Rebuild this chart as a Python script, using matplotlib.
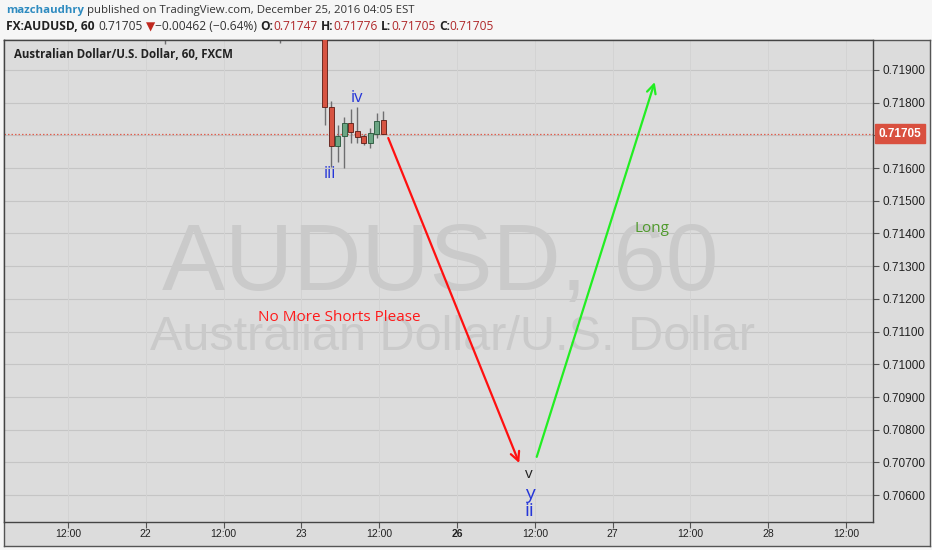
import matplotlib
matplotlib.use("Agg")
import matplotlib.pyplot as plt
from matplotlib.patches import Rectangle, FancyArrowPatch
from matplotlib.transforms import IdentityTransform, blended_transform_factory

W, H, DPI = 932, 550, 100

# ---------------- data ----------------
tick_hours = [12, 24, 36, 48, 60, 72, 84, 96, 108, 120, 132]
tick_labels = ["12:00", "22", "12:00", "23", "12:00", "26", "12:00", "27", "12:00", "28", "12:00"]
bold_labels = ["26"]
price_ticks = [0.706, 0.707, 0.708, 0.709, 0.710, 0.711, 0.712, 0.713,
               0.714, 0.715, 0.716, 0.717, 0.718, 0.719]
hidden_price_labels = [0.717]

candle_hours = [27.0, 44.7, 51.6, 52.6, 53.6, 54.6, 55.6, 56.6, 57.6, 58.6, 59.6, 60.6]
opens  = [0.72150, 0.72120, 0.72320, 0.71788, 0.71668, 0.71699, 0.71737, 0.71713, 0.71697, 0.71676, 0.71704, 0.71747]
highs  = [0.72200, 0.72180, 0.72360, 0.71805, 0.71732, 0.71756, 0.71782, 0.71787, 0.71703, 0.71722, 0.71768, 0.71776]
lows   = [0.71980, 0.71982, 0.71732, 0.71604, 0.71620, 0.71600, 0.71677, 0.71678, 0.71672, 0.71660, 0.71693, 0.71705]
closes = [0.72100, 0.72050, 0.71786, 0.71668, 0.71699, 0.71737, 0.71711, 0.71696, 0.71676, 0.71706, 0.71743, 0.71705]

last_price = 0.71705

# arrows (hour, price)
red_arrow = [(61.4, 0.71692), (81.6, 0.70698)]
green_arrow = [(84.3, 0.70717), (102.5, 0.71863)]

# labels (hour, price, text, color, size)
wave_labels = [
    (56.6, 0.71814, "iv", "#2536d8", 12),
    (52.4, 0.71582, "iii", "#2536d8", 12),
    (83.1, 0.70663, "v", "#222222", 11),
    (83.2, 0.70603, "y", "#2536d8", 14),
    (83.2, 0.70551, "ii", "#2536d8", 14),
]
notes = [
    (53.8, 0.71142, "No More Shorts Please", "#ff1a1a"),
    (102.1, 0.71414, "Long", "#4f9a2c"),
]

xlim = (2.13, 136.17)
ylim = (0.705178, 0.719917)

# ---------------- figure ----------------
fig = plt.figure(figsize=(W / DPI, H / DPI), dpi=DPI)
fig.patch.set_facecolor("#f6f6f6")

def px_rect(x0, y0, x1, y1):
    return [x0 / W, 1 - y1 / H, (x1 - x0) / W, (y1 - y0) / H]

# outer panel (price + time axis area)
bg = fig.add_axes(px_rect(4, 40, 930, 546))
bg.set_facecolor("#dcdcdc")
bg.set_xticks([]); bg.set_yticks([])
for s in bg.spines.values():
    s.set_color("#555555"); s.set_linewidth(1.0)

ax = fig.add_axes(px_rect(4, 40, 873, 522))
ax.set_facecolor("#dcdcdc")
ax.set_xlim(*xlim)
ax.set_ylim(*ylim)
for s in ax.spines.values():
    s.set_color("#444444"); s.set_linewidth(1.0)

# grid
for p in price_ticks:
    ax.axhline(p, color="#c5c5c5", lw=0.8, zorder=0)
for h in tick_hours:
    ax.axvline(h, color="#d3d3d3", lw=0.7, zorder=0)

# watermark
ax.text(0.502, (522 - 290) / 482, "AUDUSD, 60", transform=ax.transAxes,
        ha="center", va="baseline", fontsize=68, color="#cacaca",
        family="Liberation Sans", zorder=0.5)
ax.text(0.516, (522 - 350) / 482, "Australian Dollar/U.S. Dollar", transform=ax.transAxes,
        ha="center", va="baseline", fontsize=35, color="#cacaca",
        family="Liberation Sans", zorder=0.5)

# current price line
ax.axhline(last_price, color="#e0604f", lw=0.9, ls=(0, (1.2, 1.6)), zorder=1)

# candles
body_w = 0.75
for h, o, hi, lo, c in zip(candle_hours, opens, highs, lows, closes):
    up = c >= o
    face = "#6ba583" if up else "#d75442"
    edge = "#225437" if up else "#5b1a13"
    ax.vlines(h, lo, hi, color="#6e6e70", lw=1.0, zorder=2)
    ax.add_patch(Rectangle((h - body_w / 2, min(o, c)), body_w, abs(c - o),
                           facecolor=face, edgecolor=edge, lw=0.6, zorder=3))

# arrows
for (p0, p1), col in ((red_arrow, "#ff1010"), (green_arrow, "#22ee22")):
    ax.add_patch(FancyArrowPatch(p0, p1, arrowstyle="->", mutation_scale=16,
                                 color=col, lw=1.6, zorder=4,
                                 shrinkA=0, shrinkB=0))

for x, y, t, col, fs in wave_labels:
    ax.text(x, y, t, ha="center", va="center", color=col, fontsize=fs,
            family="Open Sans", zorder=5)
for x, y, t, col in notes:
    ax.text(x, y, t, ha="center", va="center", color=col, fontsize=11,
            family="Open Sans", zorder=5)

# axes ticks
ax.yaxis.tick_right()
ax.set_yticks(price_ticks)
ax.set_yticklabels(["" if p in hidden_price_labels else f"{p:.5f}" for p in price_ticks])
ax.tick_params(axis="y", direction="out", length=4, width=0.8, color="#555555",
               pad=3, labelsize=8.5, labelcolor="#222222")
ax.set_xticks(tick_hours)
ax.set_xticklabels(tick_labels)
ax.tick_params(axis="x", direction="out", length=4, width=0.8, color="#555555",
               pad=1, labelsize=7.5, labelcolor="#222222")
for lab in ax.get_yticklabels() + ax.get_xticklabels():
    lab.set_family("Liberation Sans")
for lab in ax.get_xticklabels():
    if lab.get_text() in bold_labels:
        lab.set_fontweight("bold")

# current price tag
tr = blended_transform_factory(ax.transAxes, ax.transData)
ax.text(1.0 + 6 / 869, last_price, f"{last_price:.5f}", transform=tr,
        ha="left", va="center", fontsize=8.5, color="white", fontweight="bold",
        family="Liberation Sans", zorder=6, clip_on=False,
        bbox=dict(boxstyle="square,pad=0.3", fc="#d9503f", ec="#d9503f"))

# in-plot title
ax.text(10 / 869, 1 - 14 / 482, "Australian Dollar/U.S. Dollar, 60, FXCM",
        transform=ax.transAxes, ha="left", va="center", fontsize=8.3,
        fontweight="bold", color="#222222", family="Open Sans", zorder=6)

# ---------------- header with mixed styles ----------------
renderer = fig.canvas.get_renderer()

def draw_runs(runs, x0, y_center, fs, target_w=None):
    def place(fsz):
        x = x0
        objs = []
        for txt, col, wt, space_before in runs:
            if space_before:
                x += 0.28 * fsz * DPI / 72
            t = fig.text(x, H - y_center, txt, transform=IdentityTransform(),
                         ha="left", va="center", fontsize=fsz, color=col,
                         fontweight=wt, family=["Open Sans", "DejaVu Sans"])
            w = t.get_window_extent(renderer).width
            objs.append(t)
            x += w
        return x - x0, objs
    total, objs = place(fs)
    if target_w:
        for o in objs:
            o.remove()
        place(fs * target_w / total)

line1 = [("mazchaudhry", "#2e8bc0", "bold", False),
         ("published on TradingView.com, December 25, 2016 04:05 EST", "#333333", "normal", True)]
line2 = [("FX:AUDUSD, 60", "#222222", "bold", False),
         ("0.71705", "#333333", "normal", True),
         ("\u25BC", "#c0281e", "normal", True),
         ("\u22120.00462 (\u22120.64%)", "#333333", "normal", False),
         ("O:", "#222222", "bold", True),
         ("0.71747", "#b0282a", "normal", False),
         ("H:", "#222222", "bold", True),
         ("0.71776", "#b0282a", "normal", False),
         ("L:", "#222222", "bold", True),
         ("0.71705", "#b0282a", "normal", False),
         ("C:", "#222222", "bold", True),
         ("0.71705", "#b0282a", "normal", False)]
draw_runs(line1, 6, 11, 9, target_w=409)
draw_runs(line2, 6, 27, 9, target_w=491)

fig.savefig("out.png", dpi=DPI, facecolor=fig.get_facecolor())
